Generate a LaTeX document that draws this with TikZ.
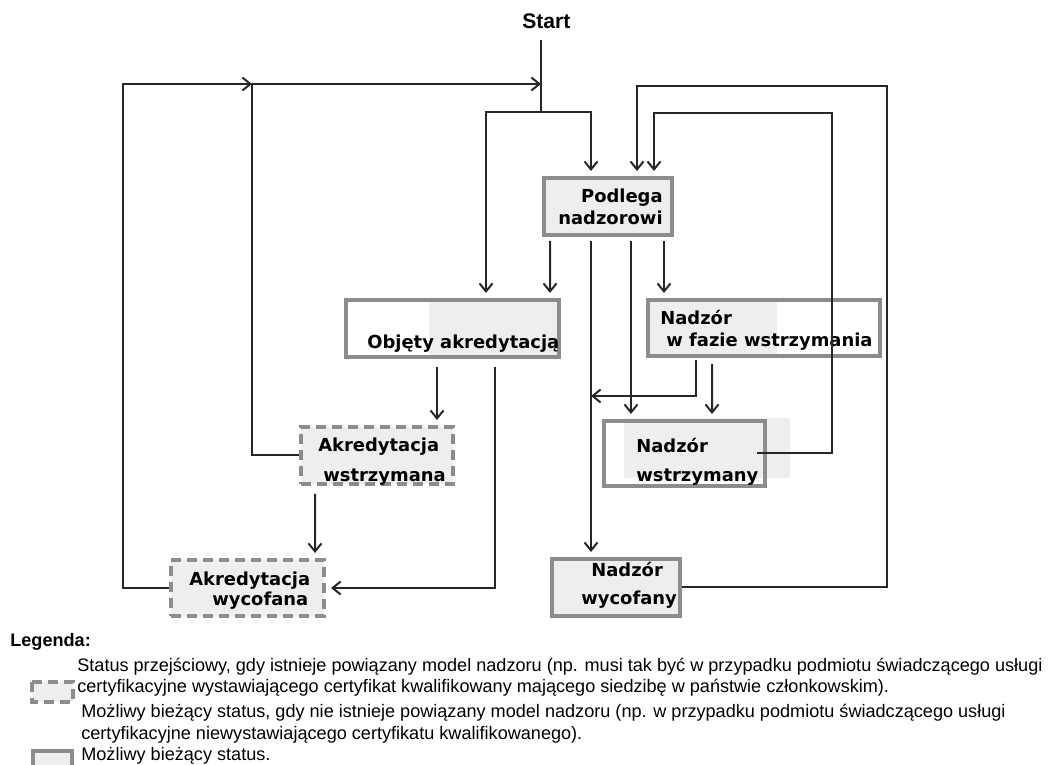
\documentclass[tikz,border=0pt]{standalone}
\usepackage{fontspec}
\setmainfont{Liberation Sans}
\newfontfamily\boxfont{DejaVu Sans}
\usepackage{tikz}
\usetikzlibrary{arrows.meta,calc,positioning}
\definecolor{boxgray}{HTML}{8C8C8C}
\definecolor{boxfill}{HTML}{EEEEEE}
\definecolor{wirecol}{HTML}{262626}
\tikzset{
  box/.style   = {draw=boxgray, line width=0.8mm, fill=boxfill, inner sep=0pt},
  dbox/.style  = {box, dash pattern=on 2mm off 1.2mm},
  wire/.style  = {line width=0.4mm, draw=wirecol},
  arr/.style   = {wire, -{Straight Barb[length=1.6mm,width=2.6mm]}, shorten >=1mm},
  lbl/.style   = {font={\boxfont\bfseries\fontsize{10.2}{12}\selectfont}, inner sep=0pt, anchor=base west},
  leg/.style   = {font={\fontsize{10.3}{12}\selectfont}, inner sep=0pt, anchor=base west},
}

\begin{document}
\begin{tikzpicture}[x=0.2mm,y=-0.2mm]
  \useasboundingbox (0,0) rectangle (1049,765);
  % partial text backgrounds
  \fill[boxfill] (429,298) rectangle (561,359);
  \fill[boxfill] (650,298) rectangle (777,358);
  \fill[boxfill] (624,418) rectangle (790,478);

  % states
  \node[box, minimum width=25.6mm, minimum height=11.4mm] (pod) at (608,206.5) {};
  \node[box, fill=none, minimum width=42.6mm, minimum height=11.4mm] (obj) at (452.5,328.5) {};
  \node[box, fill=none, minimum width=46.4mm, minimum height=11.2mm] (faz) at (764,328) {};
  \node[dbox, minimum width=30.4mm, minimum height=11.4mm] (akw) at (377,455.5) {};
  \node[dbox, minimum width=30.6mm, minimum height=11.2mm] (akc) at (247.5,588) {};
  \node[box, fill=none, minimum width=32.2mm, minimum height=13mm] (nws) at (684.5,453.5) {};
  \node[box, minimum width=25.6mm, minimum height=11.4mm] (nwc) at (616,587.5) {};

  \node[lbl, anchor=base east] (podt1) at (663,203) {Podlega};
  \node[lbl, anchor=base east] (podt2) at (663,225) {nadzorowi};
  \node[lbl] (objt) at (367,349) {Objęty akredytacją};
  \node[lbl] (fazt1) at (660,325) {Nadzór};
  \node[lbl] (fazt2) at (666,347) {w fazie wstrzymania};
  \node[lbl] (akwt1) at (318,452) {Akredytacja};
  \node[lbl] (akwt2) at (323,482) {wstrzymana};
  \node[lbl] (akct1) at (189,585) {Akredytacja};
  \node[lbl] (akct2) at (212,606) {wycofana};
  \node[lbl] (nwst1) at (636,453) {Nadzór};
  \node[lbl] (nwst2) at (636,482) {wstrzymany};
  \node[lbl] (nwct1) at (591,577) {Nadzór};
  \node[lbl] (nwct2) at (581,605) {wycofany};

  \node[font={\bfseries\fontsize{12}{14}\selectfont}, inner sep=0pt, anchor=base west] (start) at (522,29) {Start};
  \coordinate (j) at (541,112);
  \coordinate (k1) at (252,84);
  \coordinate (k2) at (541,84);

  % start and its two branches
  \draw[wire, shorten <=2mm] (start.south -| j) -- (j);
  \draw[arr] (j) -| ($(obj.north)+(33.5,0)$);
  \draw[arr] (j) -| ($(pod.north)+(-17,0)$);

  % out of Podlega nadzorowi
  \draw[arr, shorten <=0.8mm] ($(pod.south)+(-58,0)$) -- ($(obj.north)+(97.5,0)$);
  \draw[arr, shorten <=0.8mm] ($(pod.south)+(-17,0)$) -- ($(nwc.north)+(-25,0)$);
  \draw[arr, shorten <=0.8mm] ($(pod.south)+(23,0)$) -- ($(nws.north)+(-53.5,0)$);
  \draw[arr, shorten <=0.8mm] ($(pod.south)+(56,0)$) -- ($(faz.north)+(-100,0)$);

  % out of Nadzor w fazie wstrzymania
  \draw[arr, shorten <=0.4mm, shorten >=0mm] ($(faz.south)+(-68,0)$) -- ++(0,38) -- ++(-105,0);
  \draw[arr, shorten <=1.2mm] ($(faz.south)+(-52,0)$) -- ($(nws.north)+(27.5,0)$);

  % back to Podlega nadzorowi
  \draw[arr] ($(nws.east)+(-10,0)$) -- ++(75,0) -- ++(0,-340.5) -| ($(pod.north)+(46,0)$);
  \draw[arr] (nwc.east) -- ++(205,0) -- ++(0,-501.5) -| ($(pod.north)+(29,0)$);

  % accreditation side
  \draw[arr, shorten <=1.6mm] ($(obj.south)+(-15.5,0)$) -- ($(akw.north)+(60,0)$);
  \draw[arr, shorten <=1.6mm] ($(obj.south)+(42.5,0)$) |- (akc.east);
  \draw[arr, shorten <=1.6mm] ($(akw.south)+(-62,0)$) -- ($(akc.north)+(67.5,0)$);
  \draw[arr, shorten >=0mm] (akw.west) -- ++(-47,0) |- (k2);
  \draw[arr, shorten >=0mm] (akc.west) -- ++(-46,0) |- (k1);

  % legend
  \node[font={\bfseries\fontsize{10.3}{12}\selectfont}, inner sep=0pt, anchor=base west] (legt) at (10,646) {Legenda:};
  \draw[dbox] (32,682) rectangle (73,702);
  \draw[box] (33,751) rectangle (72,775);
  \node[leg] (leg1) at (77,671) {Status przejściowy, gdy istnieje powiązany model nadzoru (np. musi tak być w przypadku podmiotu świadczącego usługi};
  \node[leg] (leg2) at (77,692) {certyfikacyjne wystawiającego certyfikat kwalifikowany mającego siedzibę w państwie członkowskim).};
  \node[leg] (leg3) at (81,717) {Możliwy bieżący status, gdy nie istnieje powiązany model nadzoru (np. w przypadku podmiotu świadczącego usługi};
  \node[leg] (leg4) at (81,739) {certyfikacyjne niewystawiającego certyfikatu kwalifikowanego).};
  \node[leg] (leg5) at (81,760) {Możliwy bieżący status.};
\end{tikzpicture}
\end{document}
